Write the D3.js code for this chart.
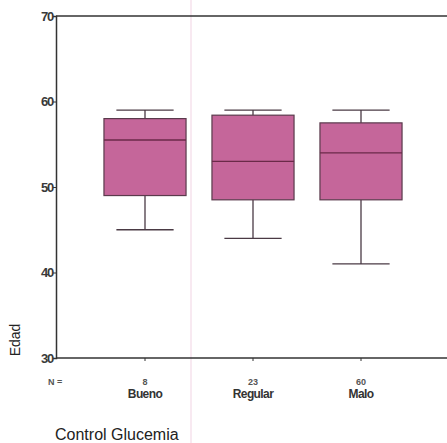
<!DOCTYPE html>
<html><head><meta charset="utf-8">
<script src="https://cdn.jsdelivr.net/npm/d3@7"></script>
<style>body{margin:0;background:#fff}svg{display:block}</style>
</head><body>
<svg id="c" width="447" height="443"></svg>
<script>
const categories = ["Bueno", "Regular", "Malo"];
const counts = [8, 23, 60];
const whiskerLow = [45, 44, 41];
const q1 = [49, 48.5, 48.5];
const median = [55.5, 53, 54];
const q3 = [58, 58.4, 57.5];
const whiskerHigh = [59, 59, 59];
const yTicks = [30, 40, 50, 60, 70];

const svg = d3.select("#c");
const font = "Arial, 'Liberation Sans', sans-serif";
const x0 = 56, xEnd = 447, yTop = 16, yBot = 358;

const y = d3.scaleLinear().domain([30, 70]).range([yBot, yTop]);
const x = d3.scaleBand().domain(categories).range([91, 415]).padding(0);
const bw = x.bandwidth();

// faint scan line artifact
svg.append("line").attr("x1", 191).attr("x2", 191).attr("y1", 0).attr("y2", 443)
  .attr("stroke", "#f6e2ec").attr("stroke-width", 1.5);

// top frame line
svg.append("line").attr("x1", x0).attr("x2", xEnd).attr("y1", yTop).attr("y2", yTop)
  .attr("stroke", "#333").attr("stroke-width", 1.3);

// y axis
const yAxis = svg.append("g").attr("transform", `translate(${x0},0)`)
  .call(d3.axisLeft(y).tickValues(yTicks).tickSize(3).tickFormat(d3.format("d")));
yAxis.select(".domain").attr("stroke", "#333").attr("stroke-width", 1.5);
yAxis.selectAll(".tick line").attr("stroke", "#333");
yAxis.selectAll(".tick text").attr("font-family", font).attr("font-size", 13)
  .attr("font-weight", "bold").attr("fill", "#3a3a3a").attr("x", -3).attr("letter-spacing", -1.2);

// x axis
svg.append("line").attr("x1", x0).attr("x2", xEnd).attr("y1", yBot).attr("y2", yBot)
  .attr("stroke", "#333").attr("stroke-width", 1.5);
const xAxis = svg.append("g").attr("transform", `translate(0,${yBot})`)
  .call(d3.axisBottom(x).tickSize(3).tickFormat((d, i) => counts[i]));
xAxis.select(".domain").remove();
xAxis.selectAll(".tick line").attr("stroke", "#333");
xAxis.selectAll(".tick text").attr("font-family", font).attr("font-size", 9)
  .attr("font-weight", "bold").attr("fill", "#555").attr("y", 27).attr("dy", 0);

svg.append("text").attr("x", 48).attr("y", 385).attr("font-family", font)
  .attr("font-size", 9).attr("font-weight", "bold").attr("fill", "#555").text("N =");

svg.selectAll(".cat").data(categories).join("text").attr("class", "cat")
  .attr("x", d => x(d) + bw / 2).attr("y", 398).attr("text-anchor", "middle")
  .attr("font-family", font).attr("font-size", 12).attr("font-weight", "bold")
  .attr("fill", "#333").attr("letter-spacing", -0.6).text(d => d);

svg.append("text").attr("x", 55).attr("y", 440).attr("font-family", font)
  .attr("font-size", 16).attr("fill", "#222").text("Control Glucemia");

svg.append("text").attr("transform", "translate(20,340) rotate(-90)")
  .attr("text-anchor", "middle").attr("font-family", font).attr("font-size", 14)
  .attr("fill", "#222").text("Edad");

// boxes
const g = svg.append("g");
categories.forEach((c, i) => {
  const cx = x(c) + bw / 2;
  const boxW = bw * 0.76, capW = bw * 0.53;
  const st = "#4a3a44";
  g.append("line").attr("x1", cx).attr("x2", cx).attr("y1", y(whiskerHigh[i])).attr("y2", y(q3[i]))
    .attr("stroke", st).attr("stroke-width", 1.3);
  g.append("line").attr("x1", cx).attr("x2", cx).attr("y1", y(q1[i])).attr("y2", y(whiskerLow[i]))
    .attr("stroke", st).attr("stroke-width", 1.3);
  g.append("line").attr("x1", cx - capW / 2).attr("x2", cx + capW / 2)
    .attr("y1", y(whiskerHigh[i])).attr("y2", y(whiskerHigh[i])).attr("stroke", st).attr("stroke-width", 1.3);
  g.append("line").attr("x1", cx - capW / 2).attr("x2", cx + capW / 2)
    .attr("y1", y(whiskerLow[i])).attr("y2", y(whiskerLow[i])).attr("stroke", st).attr("stroke-width", 1.3);
  g.append("rect").attr("x", cx - boxW / 2).attr("width", boxW)
    .attr("y", y(q3[i])).attr("height", y(q1[i]) - y(q3[i]))
    .attr("fill", "#c5669a").attr("stroke", "#5a3a4c").attr("stroke-width", 1.2);
  g.append("line").attr("x1", cx - boxW / 2).attr("x2", cx + boxW / 2)
    .attr("y1", y(median[i])).attr("y2", y(median[i])).attr("stroke", "#6a2a48").attr("stroke-width", 1.3);
});
</script>
</body></html>
